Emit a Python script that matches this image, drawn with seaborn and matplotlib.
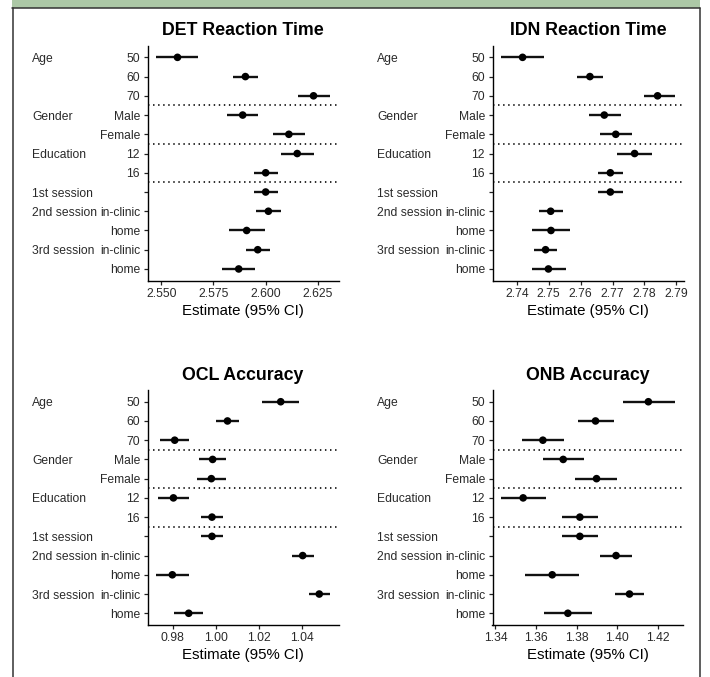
import matplotlib
matplotlib.use("Agg")
import matplotlib.pyplot as plt
from matplotlib.ticker import MultipleLocator, FormatStrFormatter
from matplotlib.patches import Rectangle
from matplotlib.lines import Line2D
import seaborn as sns
import pandas as pd

sns.set_theme(style="ticks")
plt.rcParams["font.family"] = ["Liberation Sans", "DejaVu Sans"]

# rows, top to bottom
tick_labels = ["50", "60", "70", "Male", "Female", "12", "16", "",
               "in-clinic", "home", "in-clinic", "home"]
group_labels = {0: "Age", 3: "Gender", 5: "Education", 7: "1st session",
                8: "2nd session", 10: "3rd session"}
separators = [2.5, 4.5, 6.5]

det_est = [2.5578, 2.5903, 2.6229, 2.5890, 2.6111, 2.6151, 2.6000, 2.6000, 2.6013, 2.5909, 2.5962, 2.5871]
det_lo = [2.5476, 2.5844, 2.6153, 2.5817, 2.6037, 2.6072, 2.5943, 2.5943, 2.5952, 2.5825, 2.5906, 2.5793]
det_hi = [2.5678, 2.5965, 2.6307, 2.5965, 2.6188, 2.6229, 2.6060, 2.6060, 2.6075, 2.5997, 2.6021, 2.5951]

idn_est = [2.7418, 2.7629, 2.7841, 2.7674, 2.7710, 2.7769, 2.7693, 2.7693, 2.7506, 2.7507, 2.7490, 2.7499]
idn_lo = [2.7351, 2.7590, 2.7799, 2.7626, 2.7660, 2.7715, 2.7653, 2.7653, 2.7468, 2.7449, 2.7454, 2.7447]
idn_hi = [2.7485, 2.7671, 2.7895, 2.7725, 2.7761, 2.7823, 2.7732, 2.7732, 2.7544, 2.7568, 2.7527, 2.7553]

ocl_est = [1.0301, 1.0054, 0.9809, 0.9985, 0.9979, 0.9803, 0.9982, 0.9982, 1.0403, 0.9798, 1.0480, 0.9874]
ocl_lo = [1.0213, 1.0002, 0.9741, 0.9920, 0.9913, 0.9732, 0.9931, 0.9931, 1.0353, 0.9723, 1.0432, 0.9805]
ocl_hi = [1.0388, 1.0108, 0.9877, 1.0048, 1.0047, 0.9876, 1.0031, 1.0031, 1.0454, 0.9876, 1.0529, 0.9942]

onb_est = [1.4152, 1.3892, 1.3633, 1.3733, 1.3897, 1.3536, 1.3815, 1.3815, 1.3993, 1.3679, 1.4059, 1.3756]
onb_lo = [1.4026, 1.3805, 1.3528, 1.3633, 1.3793, 1.3428, 1.3728, 1.3728, 1.3916, 1.3544, 1.3987, 1.3638]
onb_hi = [1.4282, 1.3982, 1.3736, 1.3834, 1.4000, 1.3646, 1.3903, 1.3903, 1.4072, 1.3813, 1.4131, 1.3875]

panels = [
    ("DET Reaction Time", det_est, det_lo, det_hi, 0.025, "%.3f"),
    ("IDN Reaction Time", idn_est, idn_lo, idn_hi, 0.01, "%.2f"),
    ("OCL Accuracy", ocl_est, ocl_lo, ocl_hi, 0.02, "%.2f"),
    ("ONB Accuracy", onb_est, onb_lo, onb_hi, 0.02, "%.2f"),
]

W, H = 710, 677
fig = plt.figure(figsize=(W / 100, H / 100), dpi=100)

# axes boxes in pixels: left, top, right, bottom
boxes = [(147.5, 45.8, 338.5, 280.5), (492.5, 45.8, 683.5, 280.5),
         (147.5, 390.2, 338.5, 624.8), (492.5, 390.2, 683.5, 624.8)]

text_col = "#2a2a2a"

for (title, est, lo, hi, step, fmt), (l, t, r, b) in zip(panels, boxes):
    ax = fig.add_axes([l / W, (H - b) / H, (r - l) / W, (b - t) / H])
    df = pd.DataFrame({"row": range(len(est)), "est": est, "lo": lo, "hi": hi})

    ax.hlines(df["row"], df["lo"], df["hi"], color="#111111", lw=1.7, zorder=2)
    sns.scatterplot(data=df, x="est", y="row", ax=ax, color="black", s=30,
                    edgecolor="none", zorder=3, legend=False)
    for y in separators:
        ax.axhline(y, color="#1a1a1a", lw=1.3, ls=(0, (0.8, 2.0)), zorder=1)

    pad = 0.05 * (max(hi) - min(lo))
    ax.set_xlim(min(lo) - pad, max(hi) + pad)
    ax.set_ylim(len(est) - 1 + 0.6, -0.6)
    ax.xaxis.set_major_locator(MultipleLocator(step))
    ax.xaxis.set_major_formatter(FormatStrFormatter(fmt))
    ax.set_yticks(range(len(tick_labels)))
    ax.set_yticklabels(tick_labels)

    for key, lab in group_labels.items():
        ax.annotate(lab, xy=(0, key), xycoords=("axes fraction", "data"),
                    xytext=(-83, 0), textcoords="offset points",
                    ha="left", va="center_baseline", fontsize=8.7, color=text_col)

    ax.tick_params(axis="both", length=2.9, width=0.9, pad=2.5,
                   labelsize=8.7, labelcolor=text_col, color="#222222")
    ax.set_xlabel("Estimate (95% CI)", fontsize=10.8, color="black", labelpad=3)
    ax.set_ylabel("")
    ax.set_title(title, fontsize=12.8, fontweight="bold", pad=7.5, color="black")
    sns.despine(ax=ax)
    for side in ["left", "bottom"]:
        ax.spines[side].set_linewidth(1.0)
        ax.spines[side].set_color("black")

# framing of the source figure
fig.add_artist(Rectangle((12 / W, 1 - 7.5 / H), (700 - 12) / W, 7.5 / H,
                         transform=fig.transFigure, facecolor="#acc8a6",
                         edgecolor="none"))
fig.add_artist(Line2D([12 / W, 700 / W], [1 - 8 / H, 1 - 8 / H],
                      transform=fig.transFigure, color="#333333", lw=1.1))
fig.add_artist(Line2D([12.5 / W, 12.5 / W], [0, 1 - 8 / H],
                      transform=fig.transFigure, color="#333333", lw=1.1))
fig.add_artist(Line2D([699.5 / W, 699.5 / W], [0, 1 - 8 / H],
                      transform=fig.transFigure, color="#333333", lw=1.1))

fig.savefig("out.png", dpi=100, facecolor="white")
